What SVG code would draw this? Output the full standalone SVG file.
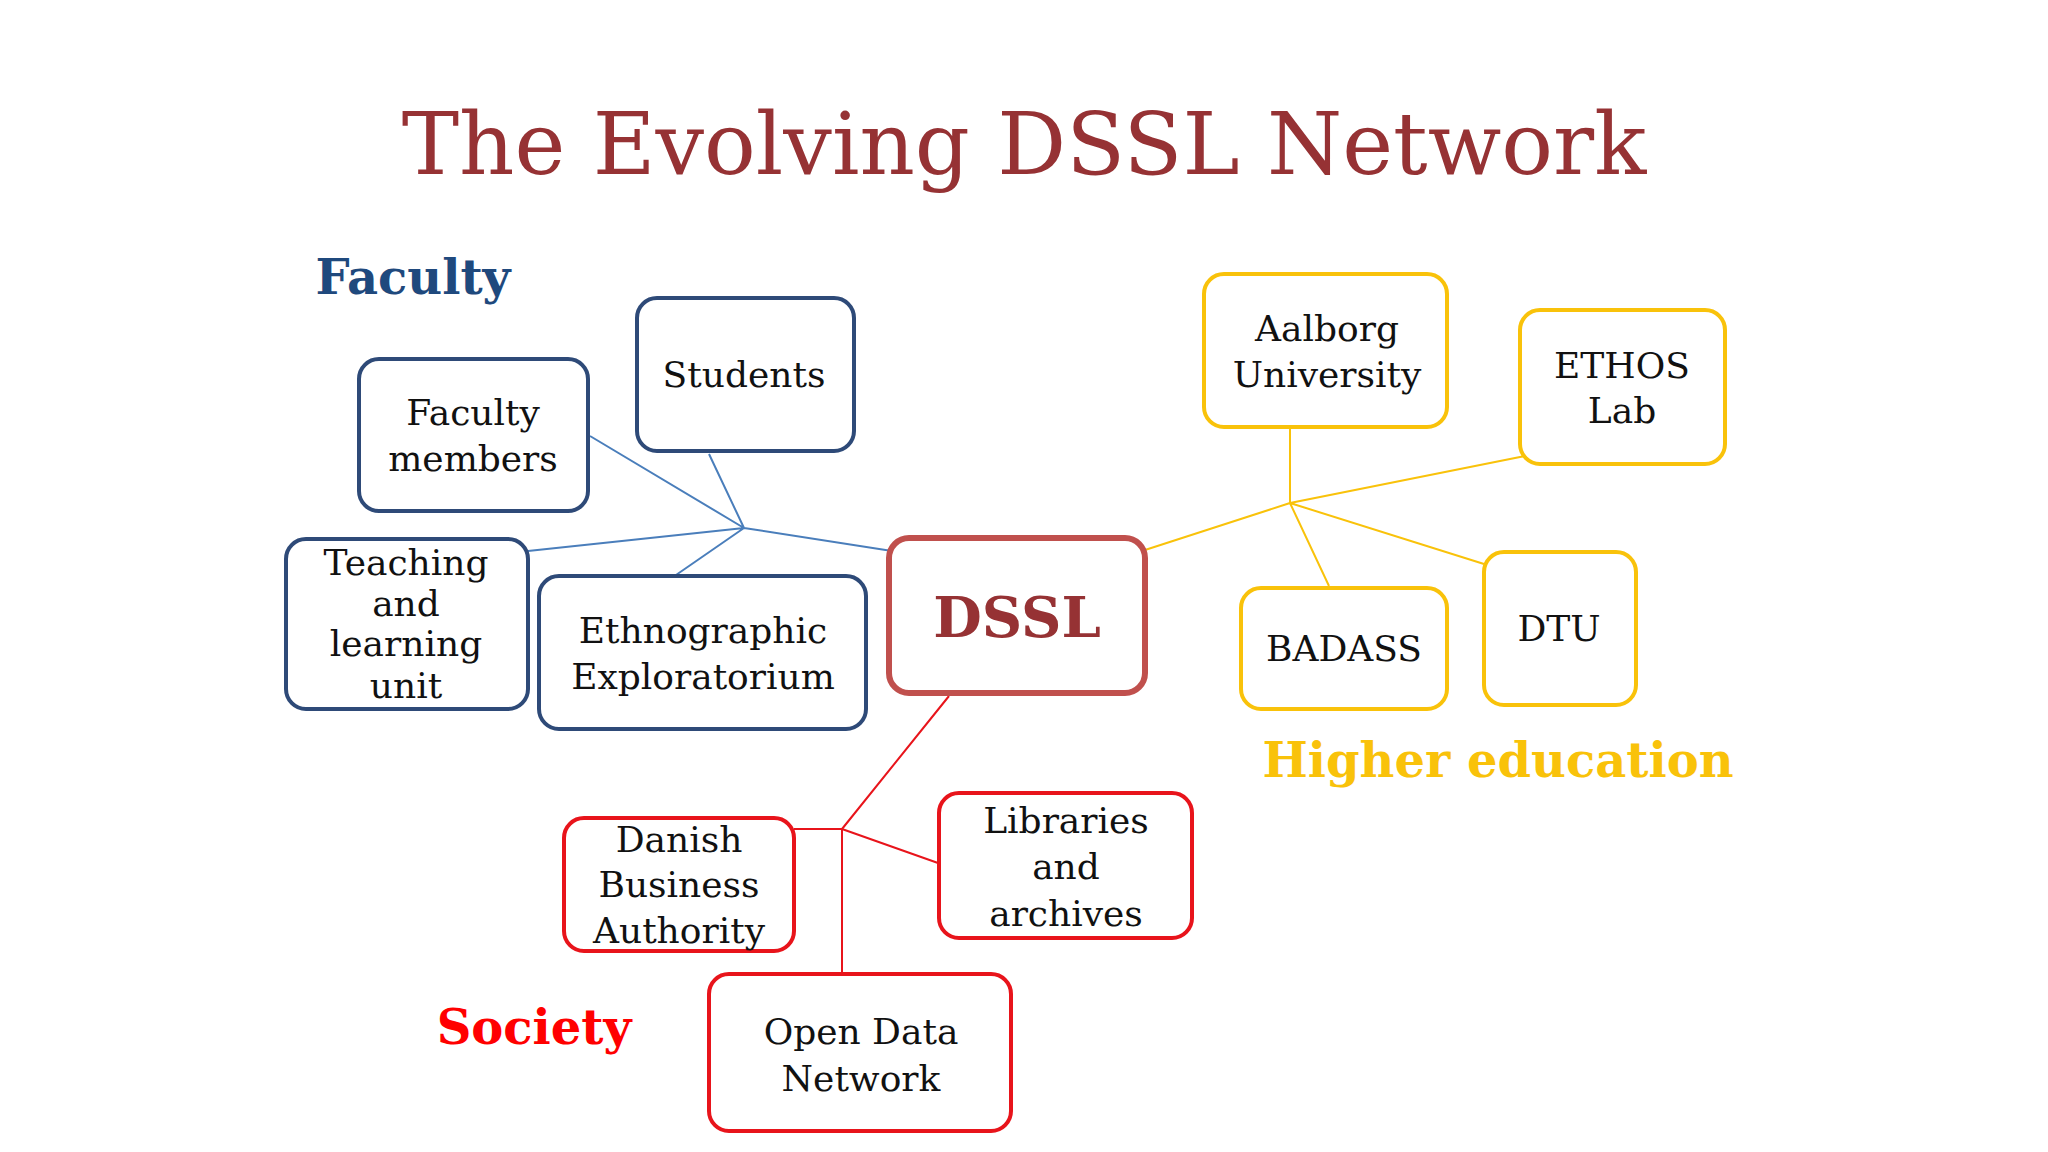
<svg xmlns="http://www.w3.org/2000/svg" width="2048" height="1152" viewBox="0 0 2048 1152">
<style>
.t{font-family:"DejaVu Serif","Liberation Serif",serif;font-size:36px;text-anchor:middle;fill:#111}
.b{fill:#fff;stroke:#2E4A78;stroke-width:4}
.y{fill:#fff;stroke:#F9C20A;stroke-width:4}
.r{fill:#fff;stroke:#E8141B;stroke-width:4}
.lab{font-family:"DejaVu Serif","Liberation Serif",serif;font-weight:bold;font-size:48px;text-anchor:middle}
</style>
<rect width="2048" height="1152" fill="#fff"/>
<text x="1024" y="174" font-family="DejaVu Serif, Liberation Serif, serif" font-size="86" fill="#963234" text-anchor="middle">The Evolving DSSL Network</text>
<text class="lab" x="413" y="294" fill="#1F497D">Faculty</text>
<text class="lab" x="1498" y="777" fill="#F9C20A">Higher education</text>
<text class="lab" x="534" y="1044" fill="#F00">Society</text>
<g id="connectors" fill="none" stroke-width="2">
<g stroke="#4A7EBB"><path d="M744 528L590 436M744 528L709 454M744 528L528 551M744 528L676 575M744 528L892 551"/></g>
<g stroke="#F9C20A"><path d="M1290 427V503M1290 503L1525 456M1290 503L1145 550M1290 503L1329 586M1290 503L1484 564"/></g>
<g stroke="#E8141B"><path d="M949 696L842 829M794 829H842M842 829L938 863M842 829V974"/></g>
</g>
<g id="faculty-members"><rect class="b" x="359" y="359" width="229" height="152" rx="20"/><text class="t" x="473" y="425">Faculty</text><text class="t" x="473" y="471">members</text></g>
<g id="students"><rect class="b" x="637" y="298" width="217" height="153" rx="20"/><text class="t" x="744" y="387">Students</text></g>
<g id="teaching"><rect class="b" x="286" y="539" width="242" height="170" rx="20"/><text class="t" x="406" y="575">Teaching</text><text class="t" x="406" y="616">and</text><text class="t" x="406" y="656">learning</text><text class="t" x="406" y="698">unit</text></g>
<g id="ethno"><rect class="b" x="539" y="576" width="327" height="153" rx="20"/><text class="t" x="703" y="643">Ethnographic</text><text class="t" x="703" y="689">Exploratorium</text></g>
<g id="dssl"><rect x="889" y="538" width="256" height="155" rx="20" fill="#fff" stroke="#C0504D" stroke-width="6"/><text x="1017" y="637" font-family="DejaVu Serif, serif" font-weight="bold" font-size="56" fill="#963234" text-anchor="middle">DSSL</text></g>
<g id="aalborg"><rect class="y" x="1204" y="274" width="243" height="153" rx="20"/><text class="t" x="1327" y="341">Aalborg</text><text class="t" x="1327" y="387">University</text></g>
<g id="ethos"><rect class="y" x="1520" y="310" width="205" height="154" rx="20"/><text class="t" x="1622" y="378">ETHOS</text><text class="t" x="1622" y="423">Lab</text></g>
<g id="badass"><rect class="y" x="1241" y="588" width="206" height="121" rx="20"/><text class="t" x="1344" y="661">BADASS</text></g>
<g id="dtu"><rect class="y" x="1484" y="552" width="152" height="153" rx="20"/><text class="t" x="1559" y="641">DTU</text></g>
<g id="danish"><rect class="r" x="564" y="818" width="230" height="133" rx="20"/><text class="t" x="679" y="852">Danish</text><text class="t" x="679" y="897">Business</text><text class="t" x="679" y="943">Authority</text></g>
<g id="libraries"><rect class="r" x="939" y="793" width="253" height="145" rx="20"/><text class="t" x="1066" y="833">Libraries</text><text class="t" x="1066" y="879">and</text><text class="t" x="1066" y="926">archives</text></g>
<g id="opendata"><rect class="r" x="709" y="974" width="302" height="157" rx="20"/><text class="t" x="861" y="1044">Open Data</text><text class="t" x="861" y="1091">Network</text></g>
</svg>
